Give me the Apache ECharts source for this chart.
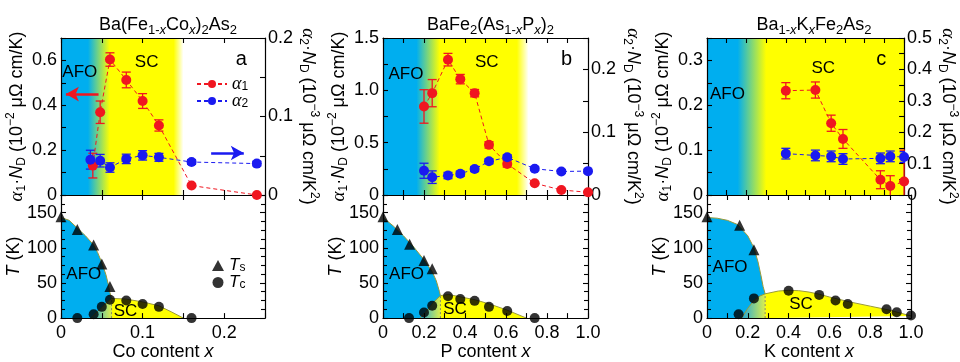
<!DOCTYPE html>
<html><head><meta charset="utf-8">
<script src="https://cdn.jsdelivr.net/npm/echarts@6/dist/echarts.min.js"></script>
<style>html,body{margin:0;padding:0;background:#fff}#c{width:960px;height:362px}</style>
</head><body><div id="c"></div>
<script>
// ---------------- DATA ----------------
// Panel a: Ba(Fe1-xCox)2As2
const aAlpha1X   = [0.039, 0.048, 0.06, 0.08, 0.10, 0.12, 0.16, 0.24];
const aAlpha1    = [0.131, 0.369, 0.604, 0.513, 0.419, 0.310, 0.042, 0.0];
const aAlpha1Err = [0.055, 0.05, 0.03, 0.035, 0.033, 0.025, 0.0, 0.0];
const aAlpha2X   = [0.036, 0.048, 0.06, 0.08, 0.10, 0.12, 0.16, 0.24];
const aAlpha2    = [0.045, 0.0437, 0.035, 0.046, 0.0505, 0.048, 0.042, 0.040];
const aAlpha2Err = [0.012, 0.008, 0.006, 0.006, 0.006, 0.005, 0.003, 0.003];
const aTs = [[0,144],[0.02,126],[0.04,104],[0.05,77],[0.06,45]];
const aTc = [[0.02,0],[0.04,5.5],[0.05,16],[0.06,26],[0.08,25],[0.10,20],[0.12,16],[0.16,0]];
const aAfoEdge = [[0,143],[0.01,139],[0.02,128],[0.03,117],[0.04,104],[0.045,93],[0.05,79],[0.055,62],[0.058,48],[0.06,36],[0.062,28]];
const aScRise  = [[0.037,0],[0.045,10],[0.05,15],[0.055,21],[0.062,28]];
const aScDome  = [[0.062,28],[0.08,27],[0.10,23],[0.12,17.5],[0.135,9],[0.15,0]];

// Panel b: BaFe2(As1-xPx)2
const bAlphaX    = [0.20, 0.24, 0.317, 0.377, 0.447, 0.517, 0.606, 0.74, 0.87, 1.0];
const bAlpha1    = [0.846, 0.973, 1.293, 1.107, 0.973, 0.479, 0.297, 0.112, 0.048, 0.026];
const bAlpha1Err = [0.16, 0.13, 0.06, 0.045, 0.035, 0.03, 0.03, 0.0, 0.0, 0.0];
const bAlpha2    = [0.0386, 0.0284, 0.031, 0.0338, 0.0413, 0.0536, 0.060, 0.0418, 0.0375, 0.038];
const bAlpha2Err = [0.012, 0.010, 0.005, 0.004, 0.004, 0.004, 0.004, 0.003, 0.003, 0.003];
const bTs = [[0,144],[0.07,126],[0.13,105],[0.20,82],[0.24,70]];
const bTc = [[0.127,0],[0.20,8],[0.24,17.6],[0.317,31],[0.377,27],[0.447,24.5],[0.517,16],[0.606,10],[0.74,0]];
const bAfoEdge = [[0,143],[0.05,131],[0.10,117],[0.15,101],[0.20,83],[0.24,66],[0.26,53],[0.275,38],[0.28,32]];
const bScRise  = [[0.18,0],[0.21,9],[0.245,22],[0.28,32]];
const bScDome  = [[0.28,32],[0.32,33.5],[0.38,30],[0.45,26],[0.52,20],[0.60,12],[0.70,0]];

// Panel c: Ba1-xKxFe2As2
const cAlphaX    = [0.40, 0.55, 0.63, 0.69, 0.88, 0.93, 1.0];
const cAlpha1    = [0.2325, 0.234, 0.16, 0.125, 0.034, 0.02, 0.03];
const cAlpha1Err = [0.018, 0.018, 0.018, 0.021, 0.02, 0.023, 0.07];
const cAlpha2    = [0.1317, 0.126, 0.123, 0.1146, 0.1167, 0.123, 0.121];
const cAlpha2Err = [0.017, 0.017, 0.017, 0.017, 0.017, 0.017, 0.017];
const cTs = [[0,144],[0.16,132],[0.23,97]];
const cTc = [[0.155,5.5],[0.23,28],[0.40,39],[0.55,33],[0.63,25],[0.69,20],[0.88,12.5],[0.93,8.3],[1.0,3.7]];
const cAfoEdge = [[0,143],[0.05,142],[0.10,139],[0.15,133],[0.20,117],[0.23,100],[0.25,80],[0.265,60],[0.275,45],[0.285,34.5]];
const cScRise  = [[0.17,0],[0.20,14],[0.23,25],[0.26,31.5],[0.285,34.5]];
const cScDome  = [[0.285,34.5],[0.35,38.5],[0.40,39.5],[0.45,39],[0.50,37],[0.55,34],[0.60,30],[0.70,23],[0.80,17],[0.90,11],[1.0,3]];

// ---------------- STYLE ----------------
const FONT = "'Liberation Sans', Arial, Helvetica, sans-serif";
const SERIF = "'Liberation Serif', 'DejaVu Serif', serif";
const CYAN = '#00aeef', YEL = '#ffff00';
const RED = '#f01620', BLU = '#1a1af0', OLIVE = '#9a9a3a';

function mkRich(fs, sub, lh){
  return {
    t:  {fontSize:fs, fontFamily:FONT, color:'#000', lineHeight:lh},
    it: {fontSize:fs, fontFamily:FONT, fontStyle:'italic', color:'#000', lineHeight:lh},
    ai: {fontSize:fs+1, fontFamily:SERIF, fontStyle:'italic', color:'#000', lineHeight:lh},
    s:  {fontSize:sub, fontFamily:FONT, color:'#000', verticalAlign:'bottom', lineHeight:sub},
    si: {fontSize:sub, fontFamily:FONT, fontStyle:'italic', color:'#000', verticalAlign:'bottom', lineHeight:sub},
    sp: {fontSize:sub, fontFamily:FONT, color:'#000', verticalAlign:'top', lineHeight:sub}
  };
}
const RICH = mkRich(18, 12, 23);
const RICH_T = mkRich(18, 13, 23);
const RICH_L = mkRich(17, 12, 17);

const panels = [
  {left:61,  width:204, xMax:0.25, xInt:0.1, xMinor:2, xDec:1,
   y1Max:0.7, y1Int:0.2, y1Dec:1, y2Max:0.2, y2Int:0.1, y2Dec:1, rGap:29,
   title:'{t|Ba(Fe}{s|1-}{si|x}{t|Co}{si|x}{t|)}{s|2}{t|As}{s|2}', xName:'{t|Co content }{it|x}',
   a1x:aAlpha1X, a1:aAlpha1, a1e:aAlpha1Err, a2x:aAlpha2X, a2:aAlpha2, a2e:aAlpha2Err,
   ts:aTs, tc:aTc, afo:aAfoEdge, rise:aScRise, dome:aScDome,
   bg:{x1:0.15, stops:[[0,CYAN],[0.22,CYAN],[0.40,YEL],[0.92,YEL],[1,'#ffffff']]},
   topLabels:[[0.023,0.547,'AFO'],[0.105,0.59,'SC'],[0.221,0.604,'a',20]],
   botLabels:[[0.028,62,'AFO'],[0.079,10,'SC']]},
  {left:383, width:205, xMax:1.0, xInt:0.2, xMinor:2, xDec:1,
   y1Max:1.5, y1Int:0.5, y1Dec:1, y2Max:0.25, y2Int:0.1, y2Dec:1, rGap:33,
   title:'{t|BaFe}{s|2}{t|(As}{s|1-}{si|x}{t|P}{si|x}{t|)}{s|2}', xName:'{t|P content }{it|x}',
   a1x:bAlphaX, a1:bAlpha1, a1e:bAlpha1Err, a2x:bAlphaX, a2:bAlpha2, a2e:bAlpha2Err,
   ts:bTs, tc:bTc, afo:bAfoEdge, rise:bScRise, dome:bScDome,
   bg:{x1:0.71, stops:[[0,CYAN],[0.23,CYAN],[0.39,YEL],[0.92,YEL],[1,'#ffffff']]},
   topLabels:[[0.112,1.156,'AFO'],[0.506,1.264,'SC'],[0.896,1.296,'b',20]],
   botLabels:[[0.115,62,'AFO'],[0.351,12.5,'SC']]},
  {left:707, width:204, xMax:1.0, xInt:0.2, xMinor:2, xDec:1,
   y1Max:0.35, y1Int:0.1, y1Dec:1, y2Max:0.5, y2Int:0.1, y2Dec:1, rGap:30,
   title:'{t|Ba}{s|1-}{si|x}{t|K}{si|x}{t|Fe}{s|2}{t|As}{s|2}', xName:'{t|K content }{it|x}',
   a1x:cAlphaX, a1:cAlpha1, a1e:cAlpha1Err, a2x:cAlphaX, a2:cAlpha2, a2e:cAlpha2Err,
   ts:cTs, tc:cTc, afo:cAfoEdge, rise:cScRise, dome:cScDome,
   bg:{x1:1.0, stops:[[0,CYAN],[0.155,CYAN],[0.30,YEL],[1,YEL]]},
   topLabels:[[0.104,0.2245,'AFO'],[0.59,0.2825,'SC'],[0.884,0.3025,'c',20]],
   botLabels:[[0.113,72,'AFO'],[0.461,20,'SC']]}
];
const TOP = 38, TOPH = 157, BOTH = 127, TMAX = 175;

function fmt(int, dec){
  return v => {
    const r = v/int;
    if (Math.abs(r - Math.round(r)) > 1e-6) return '';
    return v === 0 ? '0' : v.toFixed(dec);
  };
}
const axLine = {show:true, onZero:false, lineStyle:{color:'#000', width:1.2}};
function baseAxis(extra){
  return Object.assign({
    type:'value', z:5, min:0,
    axisLine:axLine,
    axisTick:{show:true, inside:true, length:5, lineStyle:{color:'#000', width:1.1}},
    minorTick:{show:true, splitNumber:2, length:5, lineStyle:{color:'#000', width:1.1}},
    splitLine:{show:false}, minorSplitLine:{show:false},
    axisLabel:{show:false}
  }, extra);
}
const lbl = {show:true, color:'#000', fontSize:18, fontFamily:FONT};

const grid = [], xAxis = [], yAxis = [], series = [], title = [];

function errSeries(xi, yi, xs, ys, es, color){
  return {type:'custom', xAxisIndex:xi, yAxisIndex:yi, z:8, silent:true, clip:true,
    data: xs.map((x,i)=>[x, ys[i]-es[i], ys[i]+es[i]]),
    renderItem:(params, api)=>{
      const x = api.value(0);
      const p1 = api.coord([x, api.value(1)]), p2 = api.coord([x, api.value(2)]);
      const w = 4.5, st = {stroke:color, lineWidth:1.3};
      return {type:'group', children:[
        {type:'line', shape:{x1:p1[0],y1:p1[1],x2:p2[0],y2:p2[1]}, style:st},
        {type:'line', shape:{x1:p1[0]-w,y1:p1[1],x2:p1[0]+w,y2:p1[1]}, style:st},
        {type:'line', shape:{x1:p2[0]-w,y1:p2[1],x2:p2[0]+w,y2:p2[1]}, style:st}
      ]};
    }};
}
function textSeries(xi, yi, items){
  return {type:'custom', xAxisIndex:xi, yAxisIndex:yi, z:12, silent:true, clip:false,
    data: items.map(it=>[it[0], it[1]]),
    renderItem:(params, api)=>{
      const it = items[params.dataIndex];
      const pt = api.coord([api.value(0), api.value(1)]);
      return {type:'text', x:pt[0], y:pt[1],
        style:{text:it[2], fill:'#000', font:(it[3]||17)+'px '+FONT,
               align:'center', verticalAlign:'middle', textAlign:'center', textVerticalAlign:'middle'}};
    }};
}
function polySeries(xi, yi, pts, fill, z){
  return {type:'custom', xAxisIndex:xi, yAxisIndex:yi, z:z, silent:true, clip:true,
    data:[[pts[0][0], pts[0][1]]],
    renderItem:(params, api)=>({type:'polygon', shape:{points: pts.map(p=>api.coord(p))},
      style:{fill:fill, stroke:null}})};
}
function outline(xi, yi, pts){
  return {type:'line', xAxisIndex:xi, yAxisIndex:yi, z:4, silent:true, symbol:'none', showSymbol:false,
    data:pts, lineStyle:{color:OLIVE, width:1}};
}

panels.forEach((p, i) => {
  const gT = 2*i, gB = 2*i+1, b = 4*i;
  grid.push({left:p.left, width:p.width, top:TOP, height:TOPH, containLabel:false});
  grid.push({left:p.left, width:p.width, top:TOP+TOPH, height:BOTH, containLabel:false});

  const xCommon = {max:p.xMax, interval:p.xInt, minorTick:{show:true, splitNumber:p.xMinor, length:5, lineStyle:{color:'#000', width:1.1}}};
  xAxis.push(baseAxis(Object.assign({gridIndex:gT, position:'bottom'}, xCommon)));
  xAxis.push(baseAxis(Object.assign({gridIndex:gT, position:'top'}, xCommon)));
  xAxis.push(baseAxis(Object.assign({gridIndex:gB, position:'bottom',
    axisLabel:Object.assign({margin:6, formatter:fmt(p.xInt, p.xDec)}, lbl),
    name:p.xName, nameLocation:'middle', nameGap:22, nameTextStyle:{rich:RICH}}, xCommon)));
  xAxis.push(baseAxis(Object.assign({gridIndex:gB, position:'top'}, xCommon)));

  yAxis.push(baseAxis({gridIndex:gT, position:'left', max:p.y1Max, interval:p.y1Int,
    axisLabel:Object.assign({margin:4, formatter:fmt(p.y1Int, p.y1Dec)}, lbl),
    name:'{ai|α}{s|1}{t|·}{it|N}{s|D}{t| (10}{sp|−2}{t| μΩ cm/K)}', nameLocation:'middle', nameRotate:90, nameGap:31,
    nameTextStyle:{rich:RICH}}));
  yAxis.push(baseAxis({gridIndex:gT, position:'right', max:p.y2Max, interval:p.y2Int,
    axisLabel:Object.assign({margin:3, formatter:fmt(p.y2Int, p.y2Dec)}, lbl),
    name:'{ai|α}{s|2}{t|·}{it|N}{s|D}{t| (10}{sp|−3}{t| μΩ cm/K}{sp|2}{t|)}', nameLocation:'middle', nameRotate:-90, nameGap:p.rGap,
    nameTextStyle:{rich:RICH}}));
  yAxis.push(baseAxis({gridIndex:gB, position:'left', max:TMAX, interval:50,
    minorTick:{show:true, splitNumber:4, length:4, lineStyle:{color:'#000', width:1.1}},
    axisLabel:Object.assign({margin:4, formatter:fmt(50, 0)}, lbl),
    name:'{it|T}{t| (K)}', nameLocation:'middle', nameRotate:90, nameGap:35, nameTextStyle:{rich:RICH}}));
  yAxis.push(baseAxis({gridIndex:gB, position:'right', max:TMAX, interval:50,
    minorTick:{show:true, splitNumber:4, length:4, lineStyle:{color:'#000', width:1.1}}}));

  title.push({text:p.title, left:p.left + p.width/2, top:9, textAlign:'center',
    textStyle:{rich:RICH_T, fontSize:18, fontFamily:FONT, fontWeight:'normal'}});

  // top background
  const bg = p.bg;
  series.push({type:'custom', xAxisIndex:b, yAxisIndex:b, z:1, silent:true, clip:true,
    data:[[0, bg.x1]],
    renderItem:(params, api)=>{
      const cs = params.coordSys;
      const x0 = api.coord([api.value(0), 0])[0], x1 = api.coord([api.value(1), 0])[0];
      return {type:'rect', shape:{x:x0, y:cs.y, width:x1-x0, height:cs.height},
        style:{fill:new echarts.graphic.LinearGradient(0,0,1,0, bg.stops.map(s=>({offset:s[0], color:s[1]})))}};
    }});
  // error bars
  series.push(errSeries(b, b, p.a1x, p.a1, p.a1e, RED));
  series.push(errSeries(b, b+1, p.a2x, p.a2, p.a2e, BLU));
  const s1 = {type:'line', name: i===0 ? 'α1' : 'α1_'+i, xAxisIndex:b, yAxisIndex:b, z:10,
    data:p.a1x.map((x,k)=>[x, p.a1[k]]), symbol:'circle', symbolSize:10,
    itemStyle:{color:RED}, lineStyle:{color:RED, width:1, type:[4,3]}};
  const s2 = {type:'line', name: i===0 ? 'α2' : 'α2_'+i, xAxisIndex:b, yAxisIndex:b+1, z:10,
    data:p.a2x.map((x,k)=>[x, p.a2[k]]), symbol:'circle', symbolSize:10,
    itemStyle:{color:BLU}, lineStyle:{color:BLU, width:1, type:[4,3]}};
  if (i === 0) {
    s1.markLine = {silent:true, symbol:['none','arrow'], symbolSize:[11,13], animation:false,
      label:{show:false}, lineStyle:{color:RED, width:2.5, type:'solid'},
      data:[[{coord:[0.046,0.45]},{coord:[0.006,0.45]}]]};
    s2.markLine = {silent:true, symbol:['none','arrow'], symbolSize:[11,13], animation:false,
      label:{show:false}, lineStyle:{color:BLU, width:2.5, type:'solid'},
      data:[[{coord:[0.184,0.0535]},{coord:[0.224,0.0535]}]]};
  }
  series.push(s1, s2);
  series.push(textSeries(b, b, p.topLabels));

  // bottom phase diagram
  const xb = b+2, yb = b+2;
  const xEdge = p.afo[p.afo.length-1][0];
  series.push(polySeries(xb, yb, [[0,0]].concat(p.afo, [[xEdge,0]]), CYAN, 2));
  series.push(polySeries(xb, yb, p.rise.concat([[xEdge,0]]),
    new echarts.graphic.LinearGradient(0,0,1,0,[{offset:0,color:'#1ea8dc'},{offset:1,color:'#dcee4c'}]), 2));
  series.push(polySeries(xb, yb, [[xEdge,0]].concat(p.dome), YEL, 2));
  series.push(outline(xb, yb, p.afo));
  series.push(outline(xb, yb, p.rise.concat(p.dome.slice(1))));
  series.push({type:'line', xAxisIndex:xb, yAxisIndex:yb, z:4, silent:true, symbol:'none',
    data:[[xEdge,0],[xEdge,p.afo[p.afo.length-1][1]]], lineStyle:{color:'#888866', width:1, type:[2,2]}});
  series.push({type:'scatter', name: i===0 ? 'Ts' : 'Ts_'+i, xAxisIndex:xb, yAxisIndex:yb, z:10,
    symbol:'triangle', symbolSize:11, itemStyle:{color:'#000'}, data:p.ts});
  series.push({type:'scatter', name: i===0 ? 'Tc' : 'Tc_'+i, xAxisIndex:xb, yAxisIndex:yb, z:10,
    symbol:'circle', symbolSize:10, itemStyle:{color:'#000'}, data:p.tc});
  series.push(textSeries(xb, yb, p.botLabels));
});

const option = {
  animation:false,
  title, grid, xAxis, yAxis, series,
  legend:[
    {data:['α1','α2'], left:191, top:70, orient:'vertical', itemGap:-1, itemWidth:30, itemHeight:10,
     formatter: n => n==='α1' ? '{ai|α}{s|1}' : '{ai|α}{s|2}', textStyle:{rich:RICH_L}, selectedMode:false},
    {data:['Ts','Tc'], left:207, top:252, orient:'vertical', itemGap:0, itemWidth:12, itemHeight:11,
     formatter: n => n==='Ts' ? '{it|T}{s|s}' : '{it|T}{s|c}', textStyle:{rich:RICH_L}, selectedMode:false}
  ]
};
const chart = echarts.init(document.getElementById('c'), null, {renderer:'canvas'});
chart.setOption(option);
</script></body></html>
